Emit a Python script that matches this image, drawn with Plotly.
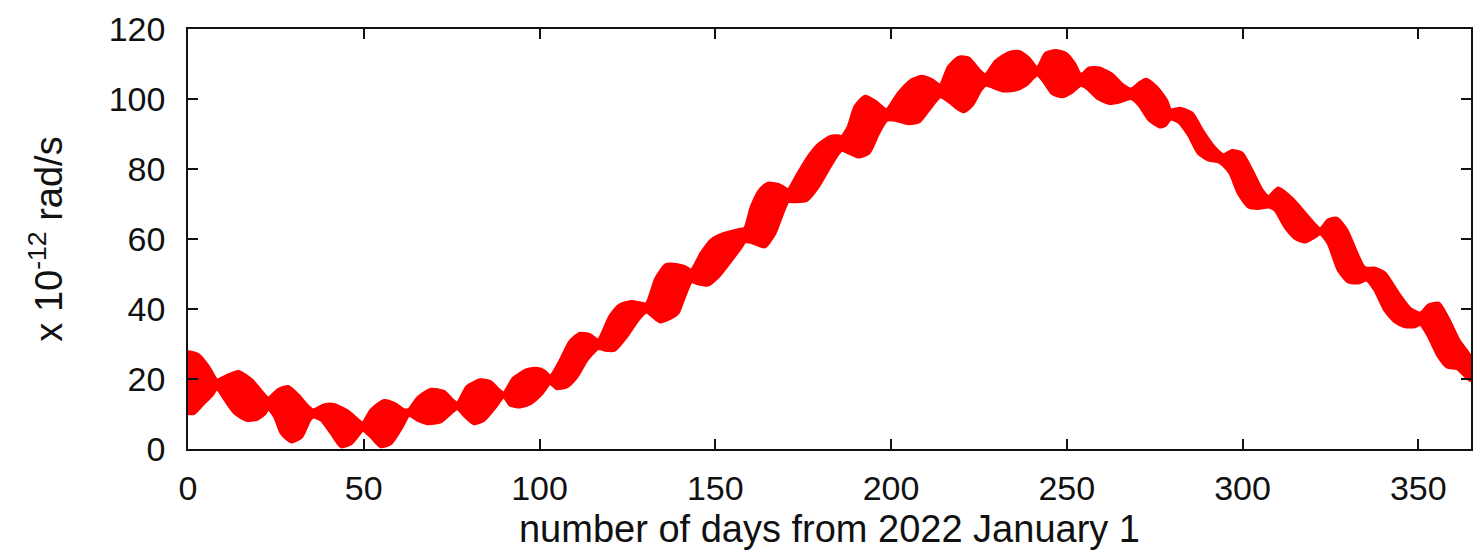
import plotly.graph_objects as go

# Upper envelope of the red band (day, value x1e-12 rad/s)
upper_day = [0, 3.0, 5.8, 8.2, 10.6, 14.3, 18.1, 20.9, 22.8, 25.7, 28.5, 31.3, 34.2, 35.6,
             38.9, 41.7, 45.5, 48.3, 49.7, 52.1, 55.8, 58.7, 61.5, 62.9, 65.3, 69.1, 72.8,
             75.2, 76.6, 79.4, 83.2, 86.0, 88.4, 89.8, 92.6, 96.4, 99.2, 101.6, 103.0,
             105.8, 108.7, 111.5, 114.3, 116.7, 120.0, 122.8, 126.1, 129.0, 130.4, 133.2,
             136.0, 139.3, 141.2, 143.2, 146.0, 148.9, 152.7, 156.5, 158.4, 160.3, 162.7,
             165.0, 167.9, 169.8, 170.7, 173.6, 176.5, 179.3, 182.6, 185.0, 186.0, 187.9,
             189.8, 192.6, 195.5, 197.9, 198.8, 202.1, 205.9, 208.8, 211.7, 214.0, 216.4,
             219.3, 222.1, 225.0, 226.9, 229.7, 233.5, 236.4, 239.2, 241.6, 244.0, 246.8,
             249.7, 252.1, 254.0, 256.4, 259.3, 263.0, 265.9, 268.3, 270.6, 272.5, 275.4,
             278.3, 279.5, 282.3, 285.6, 288.5, 291.8, 294.6, 297.0, 299.8, 302.6, 305.5,
             307.4, 310.2, 314.0, 317.8, 320.7, 322.1, 324.4, 326.8, 329.6, 332.5, 334.4,
             335.4, 337.7, 340.5, 344.3, 347.6, 350.6, 353.0, 355.8, 358.7, 361.5, 365.0]
upper_val = [27.8, 26.9, 23.5, 19.7, 20.7, 22.1, 19.7, 16.4, 14.5, 16.9, 17.8, 15.4, 12.1, 11.1,
             12.6, 12.6, 10.7, 8.3, 7.3, 11.1, 13.8, 13.0, 11.1, 11.3, 14.5, 17.0, 16.4,
             14.0, 13.0, 17.8, 19.7, 19.2, 16.9, 15.9, 20.2, 22.6, 23.0, 22.1, 20.7,
             25.0, 30.7, 33.0, 32.6, 31.1, 37.8, 41.1, 42.1, 41.6, 41.4, 48.8,
             52.6, 52.6, 52.1, 51.1, 55.9, 59.7, 61.6, 62.6, 63.0, 69.2, 74.0,
             75.9, 75.5, 74.5, 74.0, 78.8, 83.5, 86.9, 89.2, 89.4, 89.2, 92.1,
             97.8, 100.7, 99.3, 97.3, 96.9, 101.6, 105.4, 106.4, 105.4, 104.0, 109.2,
             111.9, 111.6, 108.3, 106.9, 110.7, 113.2, 113.5, 111.6, 108.8, 113.0, 113.8,
             113.0, 110.2, 106.9, 108.8, 108.8, 106.9, 104.0, 102.8, 104.5, 105.6, 103.5,
             99.7, 96.9, 97.3, 95.9, 91.1, 86.4, 84.0, 85.2, 84.5, 79.7, 74.0,
             72.1, 74.5, 71.6, 67.3, 64.0, 62.8, 65.4, 65.9, 62.6, 55.9, 52.1,
             51.6, 51.6, 50.2, 44.5, 40.2, 38.8, 41.1, 41.6, 36.9, 31.1, 26.0]

# Lower envelope of the red band
lower_day = [0, 1.6, 4.0, 6.8, 8.2, 10.6, 13.4, 16.7, 19.5, 21.9, 22.8, 24.7, 26.6, 29.4,
             32.3, 34.6, 35.6, 37.9, 40.8, 43.6, 46.4, 48.8, 49.7, 52.1, 54.9, 57.7, 60.6,
             62.9, 65.3, 68.1, 71.9, 74.7, 76.6, 79.0, 81.3, 84.2, 87.5, 89.8, 91.7, 94.5,
             97.4, 100.7, 103.0, 104.9, 107.7, 110.6, 113.4, 116.7, 118.6, 121.4, 124.7,
             128.0, 130.4, 132.3, 134.2, 137.0, 139.3, 141.2, 143.2, 145.1, 147.9, 150.8,
             154.6, 157.4, 158.4, 159.8, 162.2, 164.1, 166.9, 169.3, 170.7, 172.6, 176.0,
             179.3, 182.6, 185.0, 186.0, 187.4, 190.7, 193.6, 196.4, 198.8, 201.2, 205.0,
             207.9, 210.7, 214.0, 215.9, 218.3, 220.7, 223.1, 225.5, 226.9, 228.8, 231.6,
             235.4, 238.3, 241.6, 243.5, 245.9, 248.7, 251.6, 254.0, 255.9, 258.8, 262.1,
             265.0, 268.3, 270.6, 273.5, 276.4, 278.0, 279.5, 281.8, 284.7, 287.5, 290.4,
             293.2, 294.6, 296.5, 298.9, 301.7, 304.5, 307.4, 309.3, 312.1, 315.0, 317.8,
             320.7, 322.1, 324.4, 327.3, 330.1, 333.0, 335.4, 337.7, 340.5, 343.4, 346.2,
             349.1, 350.6, 353.0, 355.8, 358.2, 361.1, 365.0]
lower_val = [10.2, 10.2, 12.6, 15.4, 17.3, 14.0, 10.2, 8.3, 8.5, 10.2, 11.6, 9.2, 4.5, 2.1,
             3.5, 8.3, 9.2, 8.3, 4.5, 0.7, 1.6, 4.5, 5.4, 3.5, 0.7, 1.6, 5.9,
             9.7, 8.3, 7.3, 7.8, 10.2, 11.6, 9.2, 7.3, 8.3, 12.1, 15.0, 12.6, 12.1,
             13.0, 15.9, 18.8, 17.3, 17.8, 20.7, 25.4, 28.8, 28.3, 28.3, 32.1,
             36.9, 39.2, 37.8, 36.4, 37.3, 38.8, 43.5, 47.8, 47.3, 46.9, 49.2,
             54.0, 57.8, 59.2, 59.2, 58.3, 57.8, 61.6, 67.8, 70.7, 70.7, 71.1,
             75.0, 80.7, 84.5, 85.4, 84.9, 83.5, 84.5, 90.2, 94.0, 94.0, 93.0,
             93.5, 96.9, 100.7, 99.7, 97.8, 96.4, 98.3, 102.6, 104.0, 103.5, 102.4,
             102.6, 104.0, 106.9, 105.0, 101.6, 100.7, 102.1, 104.0, 103.0, 100.2, 98.8,
             99.2, 100.2, 98.3, 94.0, 92.1, 92.5, 94.3, 93.5, 89.7, 84.5, 82.6,
             82.1, 81.1, 78.8, 73.0, 69.2, 68.8, 69.2, 68.3, 63.5, 60.2, 59.2,
             60.7, 61.6, 58.8, 51.1, 47.8, 47.5, 48.3, 45.4, 39.7, 36.4, 35.0,
             35.0, 35.7, 32.1, 26.4, 23.5, 23.0, 19.5]

x_ticks = [0, 50, 100, 150, 200, 250, 300, 350]
y_ticks = [0, 20, 40, 60, 80, 100, 120]

band_x = upper_day + lower_day[::-1]
band_y = upper_val + lower_val[::-1]

fig = go.Figure()
fig.add_trace(go.Scatter(
    x=band_x, y=band_y, mode="lines", fill="toself",
    fillcolor="#ff0000", line=dict(color="#ff0000", width=3.5, shape="spline", smoothing=0.6),
    hoverinfo="skip", showlegend=False))

tick_font = dict(family="Liberation Sans, Arial, sans-serif", size=34, color="#111111")
title_font = dict(family="Liberation Sans, Arial, sans-serif", size=38, color="#111111")
axis_common = dict(showline=True, linecolor="#111111", linewidth=1.6, mirror="ticks",
                   ticks="inside", ticklen=10, tickwidth=1.6, tickcolor="#111111",
                   showgrid=False, zeroline=False, tickfont=tick_font)

fig.update_layout(
    width=1481, height=556,
    margin=dict(l=188, r=8, t=29, b=107),
    paper_bgcolor="white", plot_bgcolor="white",
    font=tick_font,
    xaxis=dict(range=[0, 365], tickvals=x_ticks, ticklabelstandoff=8,
               title=dict(text="number of days from 2022 January 1", font=title_font, standoff=10),
               **axis_common),
    yaxis=dict(range=[0, 120], tickvals=y_ticks, ticklabelstandoff=14,
               title=dict(text="x 10<sup>-12</sup> rad/s", font=title_font, standoff=34),
               **axis_common),
)

fig.write_html("out.html")
